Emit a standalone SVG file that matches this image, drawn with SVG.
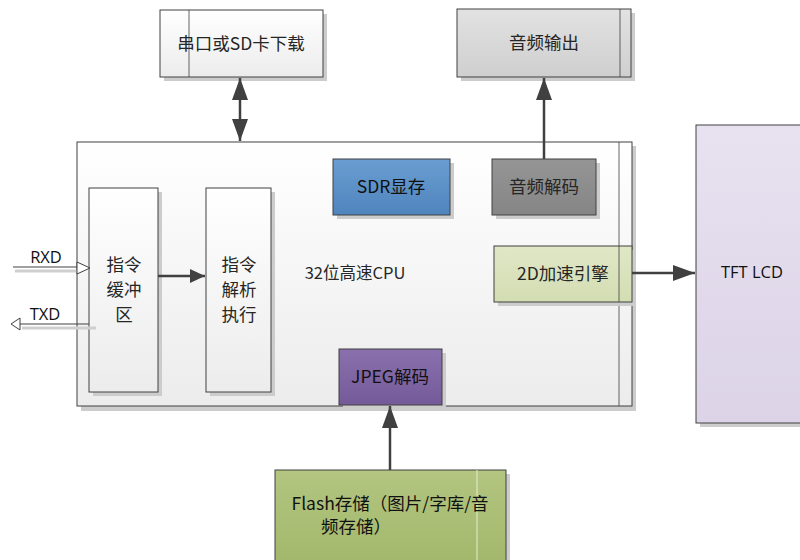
<svg xmlns="http://www.w3.org/2000/svg" width="800" height="560" viewBox="0 0 800 560">
<defs>
<linearGradient id="gw" x1="0" y1="0" x2="0" y2="1"><stop offset="0" stop-color="#ffffff"/><stop offset="1" stop-color="#ececec"/></linearGradient>
<linearGradient id="gg" x1="0" y1="0" x2="0" y2="1"><stop offset="0" stop-color="#e2e2e2"/><stop offset="1" stop-color="#cfcfcf"/></linearGradient>
<linearGradient id="gb" x1="0" y1="0" x2="0" y2="1"><stop offset="0" stop-color="#6a9ed2"/><stop offset="1" stop-color="#4f84bd"/></linearGradient>
<linearGradient id="gd" x1="0" y1="0" x2="0" y2="1"><stop offset="0" stop-color="#959595"/><stop offset="1" stop-color="#858585"/></linearGradient>
<linearGradient id="gl" x1="0" y1="0" x2="0" y2="1"><stop offset="0" stop-color="#e0e7c6"/><stop offset="1" stop-color="#d3ddb2"/></linearGradient>
<linearGradient id="gp" x1="0" y1="0" x2="0" y2="1"><stop offset="0" stop-color="#8a70ad"/><stop offset="1" stop-color="#745a98"/></linearGradient>
<linearGradient id="gf" x1="0" y1="0" x2="0" y2="1"><stop offset="0" stop-color="#b3c580"/><stop offset="1" stop-color="#a3b86c"/></linearGradient>
<linearGradient id="gt" x1="0" y1="0" x2="0" y2="1"><stop offset="0" stop-color="#e8e2f0"/><stop offset="1" stop-color="#dcd3e7"/></linearGradient>
<marker id="ah" viewBox="0 0 10 10" refX="10" refY="5" markerWidth="22" markerHeight="16" markerUnits="userSpaceOnUse" orient="auto-start-reverse" preserveAspectRatio="none"><path d="M0,0 L10,5 L0,10 z" fill="#404040"/></marker>
<marker id="as" viewBox="0 0 10 10" refX="10" refY="5" markerWidth="15" markerHeight="14" markerUnits="userSpaceOnUse" orient="auto-start-reverse" preserveAspectRatio="none"><path d="M0,0 L10,5 L0,10 z" fill="#404040"/></marker>
</defs>
<style>
.box{stroke:#404040;stroke-width:1}
.sh{fill:#cccccc}
.t{font-family:"Noto Sans CJK SC","Liberation Sans",sans-serif;font-size:17.5px;fill:#262626;text-anchor:middle}
.tl{font-family:"Open Sans","Liberation Sans","Noto Sans CJK SC",sans-serif;font-size:16.5px;fill:#111;text-anchor:middle}
.in{stroke:#404040;stroke-width:0.8;fill:none}
.c{stroke:#404040;stroke-width:2.5;fill:none}
</style>

<g id="cpu">
<rect class="sh" x="81" y="146" width="555" height="265"/>
<rect class="box" x="77" y="142" width="555" height="264" fill="url(#gw)"/>
<line class="in" x1="619" y1="142" x2="619" y2="406"/>
<text class="t" x="355" y="279" style="font-size:16.5px">32位高速CPU</text>
</g>

<g id="serial">
<rect class="sh" x="164" y="14" width="163" height="67"/>
<rect class="box" x="160" y="10" width="163" height="67" fill="url(#gw)"/>
<line class="in" x1="189" y1="10" x2="189" y2="77"/>
<text class="t" x="241" y="50">串口或SD卡下载</text>
</g>

<g id="audioout">
<rect class="sh" x="461" y="13" width="174" height="68"/>
<rect class="box" x="457" y="9" width="174" height="68" fill="url(#gg)"/>
<line class="in" x1="620" y1="9" x2="620" y2="77"/>
<text class="t" x="544" y="49">音频输出</text>
</g>

<g id="buffer">
<rect class="sh" x="93" y="192" width="69" height="204"/>
<rect class="box" x="89" y="188" width="69" height="204" fill="url(#gw)"/>
<text class="t" x="124" y="271">指令</text>
<text class="t" x="124" y="296">缓冲</text>
<text class="t" x="124" y="321">区</text>
</g>

<g id="exec">
<rect class="sh" x="210" y="192" width="65" height="204"/>
<rect class="box" x="206" y="188" width="65" height="204" fill="url(#gw)"/>
<text class="t" x="239" y="271">指令</text>
<text class="t" x="239" y="296">解析</text>
<text class="t" x="239" y="321">执行</text>
</g>

<g id="sdr">
<rect class="sh" x="337" y="163" width="117" height="56"/>
<rect class="box" x="333" y="159" width="117" height="56" fill="url(#gb)"/>
<text class="t" x="391" y="193" style="fill:#111">SDR显存</text>
</g>

<g id="audiodec">
<rect class="sh" x="496" y="163" width="104" height="56"/>
<rect class="box" x="492" y="159" width="104" height="56" fill="url(#gd)"/>
<text class="t" x="544" y="193">音频解码</text>
</g>

<g id="accel">
<rect class="sh" x="498" y="250" width="138" height="56"/>
<rect class="box" x="494" y="246" width="138" height="56" fill="url(#gl)"/>
<line class="in" x1="619" y1="246" x2="619" y2="302"/>
<text class="t" x="563" y="280">2D加速引擎</text>
</g>

<g id="jpeg">
<rect class="sh" x="343" y="353" width="103" height="56"/>
<rect class="box" x="339" y="349" width="103" height="56" fill="url(#gp)"/>
<text class="t" x="390" y="383" style="fill:#111">JPEG解码</text>
</g>

<g id="tft">
<rect class="sh" x="700" y="129" width="104" height="298"/>
<rect class="box" x="696" y="125" width="110" height="298" fill="url(#gt)"/>
<text class="tl" x="752" y="278">TFT LCD</text>
</g>

<g id="flash">
<rect class="sh" x="279" y="474" width="231" height="90"/>
<rect class="box" x="275" y="470" width="231" height="92" fill="url(#gf)"/>
<line x1="477" y1="470" x2="477" y2="562" stroke="#e6ecd4" stroke-width="1"/>
<text class="t" x="390" y="510" style="fill:#111">Flash存储（图片/字库/音</text>
<text class="t" x="356" y="533" style="fill:#111">频存储）</text>
</g>

<g id="connectors">
<line class="c" x1="240" y1="78" x2="240" y2="141" marker-start="url(#ah)" marker-end="url(#ah)"/>
<line class="c" x1="544" y1="159" x2="544" y2="78" marker-end="url(#ah)"/>
<line class="c" x1="158" y1="276" x2="205" y2="276" marker-end="url(#as)"/>
<line class="c" x1="632" y1="273" x2="695" y2="273" marker-end="url(#ah)"/>
<line class="c" x1="390" y1="470" x2="390" y2="406" marker-end="url(#ah)"/>
<line x1="15" y1="271" x2="77" y2="271" stroke="#cfcfcf" stroke-width="3"/>
<line x1="13" y1="267" x2="77" y2="267" stroke="#404040" stroke-width="1"/>
<path d="M77,262 L90,268 L77,274 z" fill="#fff" stroke="#404040" stroke-width="1"/>
<line x1="22" y1="328" x2="96" y2="328" stroke="#cfcfcf" stroke-width="3"/>
<line x1="20" y1="324" x2="89" y2="324" stroke="#404040" stroke-width="1"/>
<path d="M20,318 L11,324 L20,330 z" fill="#fff" stroke="#404040" stroke-width="1"/>
<text class="tl" x="46" y="263">RXD</text>
<text class="tl" x="45" y="320">TXD</text>
</g>
</svg>
